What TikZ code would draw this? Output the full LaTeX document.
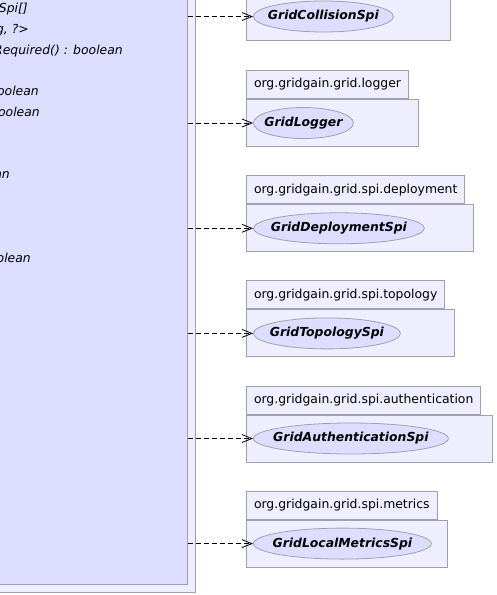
\documentclass[tikz,border=0pt]{standalone}
\usepackage{fontspec}
\setmainfont{DejaVu Sans}
\usetikzlibrary{arrows.meta,positioning,shapes.geometric}
\definecolor{pkgfill}{RGB}{238,238,255}
\definecolor{clsfill}{RGB}{221,221,255}
\definecolor{umlgray}{RGB}{160,160,178}
\tikzset{
	umlfont/.style={font=\fontsize{12.4}{15}\selectfont},
	pkgbox/.style={draw=umlgray,fill=pkgfill,line width=1pt,anchor=north west,inner sep=0pt},
	pkgtab/.style={pkgbox,minimum height=28pt,inner xsep=7.5pt,umlfont},
	member/.style={anchor=base east,inner sep=0pt,font=\fontsize{12.4}{15}\selectfont\itshape},
	spi/.style 2 args={ellipse,draw=umlgray,fill=clsfill,line width=0.8pt,minimum width=#1,minimum height=31pt,inner sep=0pt,anchor=west,
		label={[font=\fontsize{12.4}{15}\selectfont\bfseries\itshape]center:#2}},
	dep/.style={draw=black,line width=0.8pt,dash pattern=on 5pt off 3pt,-{Straight Barb[length=10pt,width=8pt]}},
}
\begin{document}
\begin{tikzpicture}[x=1pt,y=-1pt]
	\useasboundingbox (0,0) rectangle (496,595);
	\clip (0,0) rectangle (496,595);
	
	% package and class on the left
	\node (pkg) at (196,593) [anchor=south east,draw=umlgray,fill=pkgfill,line width=1pt,minimum width=420pt,minimum height=680pt] {};
	\node (cls) at (188,585) [anchor=south east,draw=umlgray,fill=clsfill,line width=1pt,minimum width=400pt,minimum height=660pt] {};
	\foreach \x/\y/\t [count=\i] in {28/12.5/{Spi[]},29/33.3/{g, ?>},123/54/{Required() : boolean},39/95.6/boolean,40/116.4/boolean,10/178.8/boolean,31/262/boolean}
		\node (m\i) at (\x,\y) [member] {\t};
	
	% packages on the right
	\node (collisionbody) at (246,-8) [pkgbox,minimum width=204pt,minimum height=48pt] {};
	\node (collision) [spi={140pt}{GridCollisionSpi},right=7pt of collisionbody.west] {};
	
	\node (loggertab) at (246,70) [pkgtab] {org.gridgain.grid.logger};
	\node (loggerbody) at (loggertab.south west) [pkgbox,minimum width=172pt,minimum height=47pt] {};
	\node (logger) [spi={100pt}{GridLogger},right=7pt of loggerbody.west] {};
	
	\node (deploymenttab) at (246,175.3) [pkgtab] {org.gridgain.grid.spi.deployment};
	\node (deploymentbody) at (deploymenttab.south west) [pkgbox,minimum width=227pt,minimum height=47pt] {};
	\node (deployment) [spi={171pt}{GridDeploymentSpi},right=7pt of deploymentbody.west] {};
	
	\node (topologytab) at (246,280.4) [pkgtab] {org.gridgain.grid.spi.topology};
	\node (topologybody) at (topologytab.south west) [pkgbox,minimum width=208pt,minimum height=47pt] {};
	\node (topology) [spi={147pt}{GridTopologySpi},right=7pt of topologybody.west] {};
	
	\node (authtab) at (246,385.5) [pkgtab] {org.gridgain.grid.spi.authentication};
	\node (authbody) at (authtab.south west) [pkgbox,minimum width=246pt,minimum height=47pt] {};
	\node (auth) [spi={195pt}{GridAuthenticationSpi},right=7pt of authbody.west] {};
	
	\node (metricstab) at (246,490.6) [pkgtab] {org.gridgain.grid.spi.metrics};
	\node (metricsbody) at (metricstab.south west) [pkgbox,minimum width=201pt,minimum height=47pt] {};
	\node (metrics) [spi={178pt}{GridLocalMetricsSpi},right=7pt of metricsbody.west] {};
	
	% dependencies
	\draw[dep] (cls.east |- collision) -- (collision);
	\draw[dep] (cls.east |- logger) -- (logger);
	\draw[dep] (cls.east |- deployment) -- (deployment);
	\draw[dep] (cls.east |- topology) -- (topology);
	\draw[dep] (cls.east |- auth) -- (auth);
	\draw[dep] (cls.east |- metrics) -- (metrics);
\end{tikzpicture}
\end{document}
